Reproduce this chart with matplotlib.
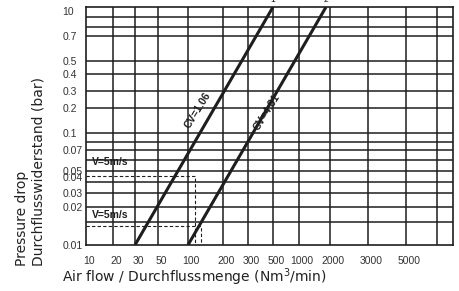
import numpy as np
import matplotlib.pyplot as plt
from matplotlib import transforms

# --- data ---
flow_ticks = [10, 20, 30, 50, 100, 200, 300, 500, 1000, 2000, 3000, 5000]
dp_ticks = [0.01, 0.02, 0.03, 0.04, 0.05, 0.07, 0.1, 0.2, 0.3, 0.4, 0.5, 0.7, 10]
dp_tick_labels = ['0.01', '0.02', '0.03', '0.04', '0.05', '0.07', '0.1', '0.2',
                  '0.3', '0.4', '0.5', '0.7', '10']

cv1_flow = [30, 500]
cv1_dp = [0.01, 10]
cv2_flow = [100, 1830]
cv2_dp = [0.01, 10]

v5_upper = (115, 0.042)
v5_lower = (129, 0.014)

# chart paper is not a clean log scale: piecewise mapping of its printed grid
x_nodes = [10, 20, 30, 50, 100, 200, 300, 500, 1000, 2000, 3000, 5000, 7000, 10000]
x_pos = [86, 113, 135, 158, 188, 223, 248, 273, 299, 330, 368, 406, 437, 453]
y_nodes = [0.01, 0.015, 0.02, 0.03, 0.035, 0.04, 0.05, 0.06, 0.07, 0.08, 0.1,
           0.2, 0.3, 0.4, 0.5, 0.7, 1, 5, 10]
y_pos = [245, 222, 207, 193, 182, 177, 171, 160, 150, 142, 133,
         108, 91, 74, 61, 36, 27, 17, 7]
x_grid = [20, 30, 50, 100, 200, 300, 500, 1000, 2000, 3000, 5000, 7000]
y_grid = [0.015, 0.02, 0.03, 0.035, 0.05, 0.06, 0.07, 0.08, 0.1, 0.2, 0.3,
          0.4, 0.5, 0.7, 1, 5]


def make_scale(nodes, pos, flip=False):
    lg = np.log10(nodes)
    p = np.array(pos, dtype=float)
    if flip:
        p = -p

    def fwd(v):
        with np.errstate(divide='ignore', invalid='ignore'):
            lv = np.log10(np.clip(v, 1e-12, None))
        return np.interp(lv, lg, p)

    def inv(q):
        return 10 ** np.interp(q, p, lg)
    return fwd, inv


ink = '#1e1e1e'
plt.rcParams['font.family'] = ['Liberation Sans', 'DejaVu Sans']

fig = plt.figure(figsize=(4.59, 2.91), dpi=100)
ax = fig.add_axes([86 / 459, 1 - 245 / 291, (453 - 86) / 459, (245 - 7) / 291])

ax.set_xscale('function', functions=make_scale(x_nodes, x_pos))
ax.set_yscale('function', functions=make_scale(y_nodes, y_pos, flip=True))
ax.set_xlim(10, 10000)
ax.set_ylim(0.01, 10)

for gx in x_grid:
    ax.axvline(gx, color=ink, lw=1.1, zorder=1)
for gy in y_grid:
    ax.axhline(gy, color=ink, lw=1.1, zorder=1)
for s in ax.spines.values():
    s.set_color(ink)
    s.set_linewidth(1.2)

ax.set_xticks(flow_ticks)
ax.set_xticklabels([str(t) for t in flow_ticks])
ax.set_yticks(dp_ticks)
ax.set_yticklabels(dp_tick_labels)
ax.minorticks_off()
ax.tick_params(axis='x', length=0, pad=8, labelsize=7.5, colors='#333')
ax.tick_params(axis='y', length=0, pad=17, labelsize=7.5, colors='#333')
for lbl in ax.get_yticklabels():
    lbl.set_ha('left')
ax.get_yticklabels()[-1].set_va('top')
shift = transforms.ScaledTranslation(3 / 100, 0, fig.dpi_scale_trans)
for lbl in ax.get_xticklabels():
    lbl.set_transform(lbl.get_transform() + shift)

# flow curves
ax.plot(cv1_flow, cv1_dp, color=ink, lw=2.2, zorder=3, solid_capstyle='butt')
ax.plot(cv2_flow, cv2_dp, color=ink, lw=2.2, zorder=3, solid_capstyle='butt')
ax.text(122, 0.19, 'CV=1.06', rotation=58, ha='center', va='center',
        fontsize=7.5, fontweight='bold', color=ink, zorder=4)
ax.text(440, 0.18, 'CV=4.81', rotation=58, ha='center', va='center',
        fontsize=7.5, fontweight='bold', color=ink, zorder=4)
ax.annotate('1', xy=(cv1_flow[1], cv1_dp[1]), xytext=(0, 3), textcoords='offset pixels',
            ha='center', va='bottom', fontsize=6, annotation_clip=False)
ax.annotate('2', xy=(cv2_flow[1], cv2_dp[1]), xytext=(0, 3), textcoords='offset pixels',
            ha='center', va='bottom', fontsize=6, annotation_clip=False)

# V=5m/s reference guides
for fx, dp in (v5_upper, v5_lower):
    ax.plot([10, fx, fx], [dp, dp, 0.01], color=ink, lw=0.8, ls=(0, (3, 2)), zorder=2)
ax.text(11.6, 0.058, 'V=5m/s', fontsize=7.5, fontweight='bold', va='center',
        ha='left', color=ink, zorder=4)
ax.text(11.6, 0.0172, 'V=5m/s', fontsize=7.5, fontweight='bold', va='center',
        ha='left', color=ink, zorder=4)

fig.text(194 / 459, 1 - 277 / 291, 'Air flow / Durchflussmenge (Nm$^3$/min)',
         ha='center', va='center', fontsize=10, color='#222', family='DejaVu Sans')
fig.text(30 / 459, 1 - 266 / 291, 'Pressure drop\nDurchflusswiderstand (bar)',
         rotation=90, ha='center', va='bottom', multialignment='left',
         fontsize=10, color='#222', linespacing=1.2, family='DejaVu Sans')

fig.savefig('out.png', dpi=100)
